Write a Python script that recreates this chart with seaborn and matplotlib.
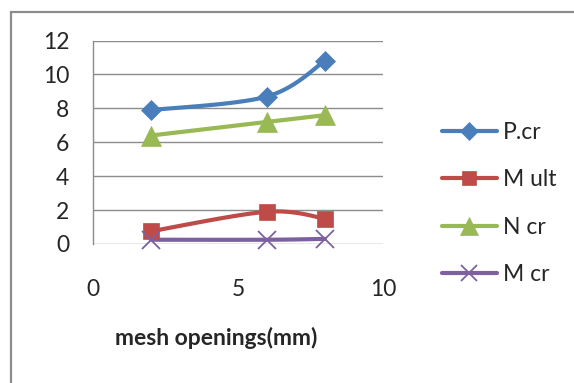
import numpy as np
import pandas as pd
import matplotlib
matplotlib.use("Agg")
import matplotlib.pyplot as plt
from matplotlib.lines import Line2D
from matplotlib.patches import Rectangle
import seaborn as sns

# Mesh opening sizes (mm) and measured values for each series
mesh_mm = [2, 6, 8]
p_cr = [7.9, 8.7, 10.8]
m_ult = [0.75, 1.9, 1.5]
n_cr = [6.4, 7.2, 7.6]
m_cr = [0.25, 0.25, 0.3]

series_names = ["P.cr", "M ult", "N cr", "M cr"]
series_values = [p_cr, m_ult, n_cr, m_cr]
colors = ["#4A7EBB", "#BE4B48", "#98B954", "#7D60A0"]
markers = ["D", "s", "^", "x"]
marker_sizes = [10.5, 11, 14, 13]

y_ticks = [0, 2, 4, 6, 8, 10, 12]
x_ticks = [0, 5, 10]

sns.set_style("white")
plt.rcParams["font.family"] = ["Lato", "DejaVu Sans"]
FS = 16.5


def smooth_curve(xs, ys, n=40):
    """Bezier smoothing through the points (spreadsheet-style smoothed line)."""
    pts = np.column_stack([xs, ys]).astype(float)
    padded = np.vstack([pts[0], pts, pts[-1]])
    out = []
    t = np.linspace(0, 1, n)[:, None]
    for i in range(len(pts) - 1):
        p0, p1 = padded[i + 1], padded[i + 2]
        c1 = p0 + (padded[i + 2] - padded[i]) / 6.0
        c2 = p1 - (padded[i + 3] - padded[i + 1]) / 6.0
        seg = ((1 - t) ** 3) * p0 + 3 * ((1 - t) ** 2) * t * c1 \
            + 3 * (1 - t) * t ** 2 * c2 + t ** 3 * p1
        out.append(seg if i == 0 else seg[1:])
    curve = np.vstack(out)
    return curve[:, 0], curve[:, 1]


fig = plt.figure(figsize=(5.74, 3.83), dpi=100)
ax = fig.add_axes([0.162, 0.363, 0.505, 0.531])

# Outer chart frame
fig.patches.append(Rectangle((11 / 574, -0.05), 1.0, 1 - 12 / 383 + 0.05,
                             transform=fig.transFigure, fill=False,
                             edgecolor="#8C8C8C", linewidth=1.6, zorder=0))

handles = []
for name, vals, col, mk, ms in zip(series_names, series_values, colors,
                                    markers, marker_sizes):
    sx, sy = smooth_curve(mesh_mm, vals)
    curve = pd.DataFrame({"x": sx, "y": sy})
    sns.lineplot(data=curve, x="x", y="y", ax=ax, color=col, linewidth=3.0,
                 sort=False, estimator=None, zorder=3)
    pts = pd.DataFrame({"x": mesh_mm, "y": vals})
    edge_w = 1.3 if mk == "x" else 0.5
    ax.plot(pts["x"], pts["y"], linestyle="none", marker=mk, markersize=ms,
            markerfacecolor=col, markeredgecolor=col, markeredgewidth=edge_w,
            zorder=4, clip_on=False)
    handles.append(Line2D([0], [0], color=col, linewidth=3.0, marker=mk,
                          markersize=ms * 0.9, markerfacecolor=col,
                          markeredgecolor=col, markeredgewidth=edge_w,
                          label=name))

ax.set_xlim(0, 10)
ax.set_ylim(0, 12)
ax.set_xticks(x_ticks)
ax.set_yticks(y_ticks)
ax.set_xticklabels([str(v) for v in x_ticks], fontsize=FS)
ax.set_yticklabels([str(v) for v in y_ticks], fontsize=FS)
ax.tick_params(axis="x", length=0, pad=25)
ax.tick_params(axis="y", length=0, pad=17)

ax.grid(axis="y", color="#8C8C8C", linewidth=1.0)
ax.grid(axis="x", visible=False)
for side in ["top", "right", "bottom"]:
    ax.spines[side].set_visible(False)
ax.spines["left"].set_color("#8C8C8C")
ax.spines["left"].set_linewidth(1.0)

ax.set_xlabel("")
ax.set_ylabel("")
fig.text(216 / 574, 1 - 338 / 383, "mesh openings(mm)", fontsize=FS,
         fontweight="bold", ha="center", va="center")

fig.legend(handles=handles, loc="center left",
           bbox_to_anchor=(0.742, 0.469), frameon=False, fontsize=FS,
           handlelength=2.4, handletextpad=0.25, labelspacing=1.15,
           borderpad=0.2)

fig.savefig("out.png", dpi=100)
